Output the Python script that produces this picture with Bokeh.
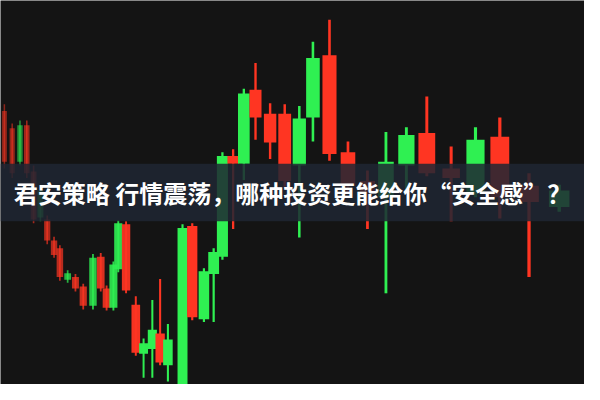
import numpy as np
from bokeh.plotting import figure
from bokeh.models import BoxAnnotation, Label, ColumnDataSource
from bokeh.embed import file_html
from bokeh.resources import INLINE

# time position of each candle
t = [4, 12, 20, 27, 34, 41, 48, 55, 61, 69, 77, 85, 95, 103, 109, 116, 121, 129,
     139, 147, 156, 164, 172, 187, 197, 209, 219, 228, 239, 250, 262, 277, 292,
     307, 321, 338, 357, 377, 396, 417, 438, 463, 488, 513, 543, 574]
open_ = [285, 267, 232, 270, 222, 174, 172, 150, 142, 109, 112, 102, 82, 133, 100, 80, 120, 167,
         83, 32, 37, 53, 20, -5, 165, 68, 115, 133, 238, 230, 307, 282, 282,
         228, 278, 343, 242, 212, 195, 228, 262, 225, 200, 258, 207, 185]
close = [232, 220, 270, 220, 172, 202, 150, 135, 112, 116, 100, 82, 132, 100, 80, 125, 168, 98,
         33, 43, 57, 23, 47, 163, 70, 118, 138, 238, 230, 303, 278, 252, 212,
         277, 340, 240, 207, 200, 232, 260, 220, 215, 255, 195, 190, 202]
high = [292, 272, 275, 275, 228, 207, 176, 154, 145, 119, 115, 105, 136, 137, 103, 128, 171, 170,
        92, 48, 88, 110, 63, 167, 168, 121, 142, 242, 245, 308, 335, 293, 292,
        290, 357, 380, 253, 223, 263, 268, 300, 248, 268, 278, 220, 208]
low = [225, 215, 228, 215, 168, 170, 146, 132, 108, 106, 97, 78, 78, 97, 77, 77, 117, 95,
       30, 7, 7, 20, 3, -10, 67, 65, 65, 130, 162, 213, 255, 235, 205,
       153, 253, 233, 200, 162, 95, 200, 217, 170, 195, 173, 112, 180]

title = "君安策略 行情震荡，哪种投资更能给你“安全感”？"

t_arr = np.array(t, dtype=float)
o = np.array(open_, dtype=float)
c = np.array(close, dtype=float)
up = c >= o
GREEN = "#2ff052"
RED = "#ff3522"
colors = [GREEN if u else RED for u in up]
# perspective: nearer candles are wider and sharper
widths = 5 + 0.028 * t_arr
alphas = np.clip(0.5 + t_arr / 300.0, 0, 1)
wick_w = 1.5 + t_arr / 300.0

src = ColumnDataSource(dict(
    t=t_arr, top=np.maximum(o, c), bottom=np.minimum(o, c),
    high=high, low=low, color=colors, w=widths, a=alphas, lw=wick_w,
))

p = figure(width=584, height=384, x_range=(0, 600), y_range=(0, 400),
           output_backend="svg", toolbar_location=None,
           background_fill_color="#141414", border_fill_color="#141414",
           min_border=0)
p.axis.visible = False
p.grid.visible = False
p.outline_line_color = None

p.segment(x0="t", x1="t", y0="low", y1="high", source=src,
          line_color="color", line_alpha="a", line_width="lw")
p.vbar(x="t", width="w", top="top", bottom="bottom", source=src,
       fill_color="color", fill_alpha="a", line_color=None)

p.add_layout(BoxAnnotation(bottom=170, top=230, fill_color="#1e2633",
                           fill_alpha=0.85, line_color=None))
p.add_layout(Label(x=300, y=200, text=title, text_align="center",
                   text_baseline="middle", text_color="white",
                   text_font="Noto Sans CJK SC", text_font_style="bold",
                   text_font_size="24px"))

open("out.html", "w").write(file_html(p, INLINE))
